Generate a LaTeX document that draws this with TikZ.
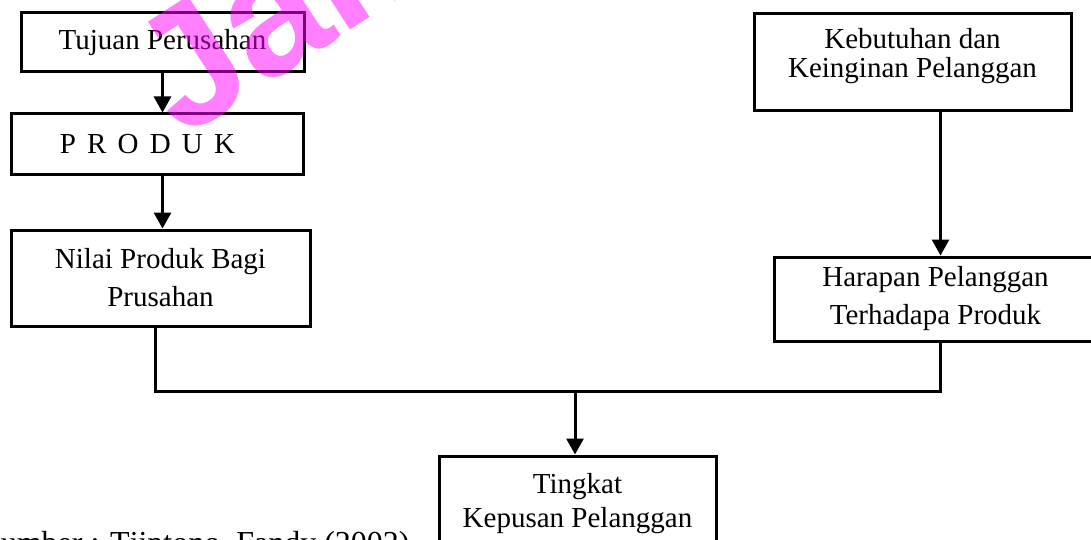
\documentclass[tikz,border=0pt]{standalone}
\usepackage{fontspec}
\setmainfont{Liberation Serif}
\newfontfamily\markfont{Liberation Sans}
\usetikzlibrary{positioning,arrows.meta,calc}
\definecolor{stampcol}{RGB}{255,0,255}

\begin{document}
\begin{tikzpicture}[
  x=0.5pt, y=-0.5pt,
  box/.style={rectangle, draw, line width=1.5pt, inner sep=0pt, align=center, font=\fontsize{14.5}{19}\selectfont},
  line/.style={line width=1.5pt},
  arrow/.style={line width=1.5pt, -{Triangle[width=8.5pt,length=8pt]}},
  stamp/.style={text=stampcol, opacity=0.5, inner sep=0pt, font=\markfont\bfseries\fontsize{85}{85}\selectfont}
]
\useasboundingbox (0,0) rectangle (1091,540);

% left column
\node[box, minimum width=141.5pt, minimum height=29.5pt] (tujuan) at (162.5,42.5) {Tujuan Perusahan};
\node[box, minimum width=146pt, minimum height=30pt] (produk) [below=19.5pt of tujuan, xshift=-2.75pt] {\spaceskip=5.6pt P R O D U K\hspace*{9.5pt}};
\node[box, minimum width=149.5pt, minimum height=48pt] (nilai) [below=26.5pt of produk, xshift=1.75pt] {Nilai Produk Bagi\\Prusahan};
\draw[arrow] (tujuan.south) -- (tujuan.south |- produk.north);
\draw[arrow] (produk.south -| tujuan.south) -- (tujuan.south |- nilai.north);

% right column
\node[box, minimum width=158.5pt, minimum height=48.5pt, text height=17.9pt, font=\fontsize{14.5}{14.5}\selectfont] (kebutuhan) at (912.5,62.5) {Kebutuhan dan\\Keinginan Pelanggan};
\node[box, minimum width=161pt, minimum height=42pt] (harapan) [below=71.5pt of kebutuhan, xshift=11.5pt] {Harapan Pelanggan\\Terhadapa Produk};
\draw[arrow] ([xshift=2.5pt]harapan.north |- kebutuhan.south) -- ([xshift=2.5pt]harapan.north);

% result
\node[box, minimum width=138.5pt, minimum height=48pt, font=\fontsize{14.5}{17}\selectfont] (tingkat) at (577.5,504) {Tingkat\\Kepusan Pelanggan};
\coordinate (join) at (575,391);
\draw[line] ([xshift=-2.75pt]nilai.south) |- (join) -| ([xshift=2.5pt]harapan.south);
\draw[arrow] (join) -- (join |- tingkat.north);

% source
\node[inner sep=0pt, anchor=base east, font=\fontsize{16}{19}\selectfont] (sumber) at (410,553) {Sumber : Tjiptono, Fandy (2002)};

% watermark
\node[stamp, rotate=33, anchor=base west] (mark) at (182,140) {Jambi};
\end{tikzpicture}
\end{document}
